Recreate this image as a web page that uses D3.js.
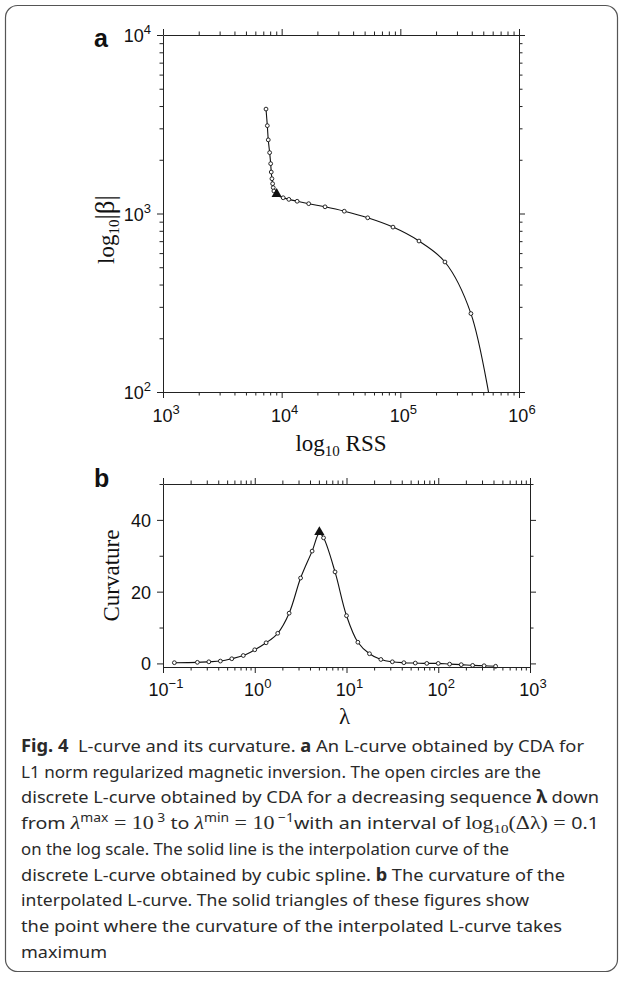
<!DOCTYPE html>
<html>
<head>
<script src="https://d3js.org/d3.v7.min.js"></script>
<style>
    body { margin: 0; background: #fff; }
    .axis path, .axis line { stroke: #222; stroke-width: 1; }
    .tick-label { font-family: "Liberation Sans", Arial, sans-serif; font-size: 18px; fill: #111; }
    .title { font-family: "Liberation Serif", "Times New Roman", serif; font-size: 23px; fill: #111; }
    .panel { font-family: "Liberation Sans", Arial, sans-serif; font-size: 25px; font-weight: bold; fill: #111; }
    .caption { font-family: "Noto Sans", "Open Sans", sans-serif; font-size: 17px; fill: #2a2a2a; }
</style>
</head>
<body>
<script>
// panel a: discrete L-curve (RSS vs |beta|)
var rss  = [7380, 7570, 7710, 7920, 8080, 8170, 8280, 8390, 8490, 8600,
            10300, 11500, 13500, 16900, 23200, 33700, 53100, 86700, 143600, 237700, 393500, 627000];
var beta = [3846, 3105, 2585, 2193, 1902, 1707, 1566, 1469, 1396, 1337,
            1225, 1200, 1171, 1135, 1090, 1030, 946, 839, 701, 535, 275, 61];
var cornerA = {rss: 9080, beta: 1270};

// panel b: curvature vs lambda
var lambda = [0.133, 0.237, 0.316, 0.422, 0.562, 0.75, 1.0, 1.33, 1.78, 2.37, 3.16, 4.22, 5.62, 7.5,
              10, 13.3, 17.8, 23.7, 31.6, 42.2, 56.2, 75, 100, 133, 178, 237, 316, 422];
var curv   = [0.2, 0.3, 0.45, 0.65, 1.3, 2.2, 3.8, 5.75, 8.4, 14, 23.8, 31.3, 35, 25.5,
              13.3, 5.9, 2.7, 1.1, 0.45, 0.2, 0.1, 0, 0, -0.2, -0.35, -0.55, -0.65, -0.8];
var peakB = {lambda: 5.06, curv: 36.3};

var expA_x = [3, 4, 5, 6];
var expA_y = [2, 3, 4];
var expB_x = [-1, 0, 1, 2, 3];
var curvLabels = [0, 20, 40];
var curvMinor = [10, 30, 50];

var captionLines = [
    [["Fig. 4", 1], ["  L-curve and its curvature. ", 0], ["a", 1], [" An L-curve obtained by CDA for", 0]],
    [["L1 norm regularized magnetic inversion. The open circles are the", 0]],
    [["discrete L-curve obtained by CDA for a decreasing sequence ", 0], ["\u03bb", 1], [" down", 0]],
    null,
    [["on the log scale. The solid line is the interpolation curve of the", 0]],
    [["discrete L-curve obtained by cubic spline. ", 0], ["b", 1], [" The curvature of the", 0]],
    [["interpolated L-curve. The solid triangles of these figures show", 0]],
    [["the point where the curvature of the interpolated L-curve takes", 0]],
    [["maximum", 0]]
];
var captionWidths = [563, 520, 578, 578, 488, 544, 508, 541, 86];

var W = 624, H = 982;
var svg = d3.select("body").append("svg").attr("width", W).attr("height", H);

// frame
svg.append("rect").attr("x", 5.5).attr("y", 5.5).attr("width", 612).attr("height", 966)
    .attr("rx", 12).attr("fill", "none").attr("stroke", "#555").attr("stroke-width", 1.2);

function logTicks(lo, hi) {
    var out = [];
    for (var e = lo; e < hi; e++)
        for (var k = 1; k < 10; k++) out.push(k * Math.pow(10, e));
    out.push(Math.pow(10, hi));
    return out;
}
function isDecade(v) {
    var l = Math.log10(v);
    return Math.abs(l - Math.round(l)) < 1e-9;
}
function powLabel(sel, e, anchor) {
    var t = sel.append("text").attr("class", "tick-label").attr("text-anchor", anchor);
    t.append("tspan").text("10");
    t.append("tspan").attr("dy", -8).attr("font-size", 13).text(e < 0 ? "\u2212" + (-e) : e);
    return t;
}

// frame axes with major / minor ticks, outward
function frameAxes(g, x, y, xt, yt, w, h, isMajX, isMajY) {
    var majL = 6, minL = 3.5;
    var ax = [
        [d3.axisBottom(x).tickValues(xt), "translate(0," + h + ")", "x"],
        [d3.axisTop(x).tickValues(xt), "translate(0,0)", "x"],
        [d3.axisLeft(y).tickValues(yt), "translate(0,0)", "y"],
        [d3.axisRight(y).tickValues(yt), "translate(" + w + ",0)", "y"]
    ];
    ax.forEach(function(a) {
        var gg = g.append("g").attr("class", "axis").attr("transform", a[1])
            .call(a[0].tickSizeOuter(0).tickFormat(function() { return ""; }));
        gg.selectAll(".tick line").each(function(d) {
            var maj = a[2] == "x" ? isMajX(d) : isMajY(d);
            var ln = d3.select(this), L = maj ? majL : minL;
            if (ln.attr("y2") != null && +ln.attr("y2") != 0) ln.attr("y2", +ln.attr("y2") > 0 ? L : -L);
            if (ln.attr("x2") != null && +ln.attr("x2") != 0) ln.attr("x2", +ln.attr("x2") > 0 ? L : -L);
        });
    });
}

// ---------- panel a ----------
var A = {l: 163, t: 35, r: 519, b: 392};
var wA = A.r - A.l, hA = A.b - A.t;
var gA = svg.append("g").attr("transform", "translate(" + A.l + "," + A.t + ")");
var xA = d3.scaleLog().domain([1e3, 1e6]).range([0, wA]);
var yA = d3.scaleLog().domain([1e2, 1e4]).range([hA, 0]);

gA.append("clipPath").attr("id", "clipA").append("rect").attr("width", wA).attr("height", hA);

var ptsA = rss.map(function(r, i) { return {rss: r, beta: beta[i]}; });
var lineA = ptsA.concat([cornerA]).sort(function(p, q) { return p.rss - q.rss; });
gA.append("path").attr("clip-path", "url(#clipA)")
    .attr("d", d3.line().x(function(d) { return xA(d.rss); }).y(function(d) { return yA(d.beta); })
        .curve(d3.curveCatmullRom.alpha(0.5))(lineA))
    .attr("fill", "none").attr("stroke", "#111").attr("stroke-width", 1.1);
gA.append("g").attr("clip-path", "url(#clipA)").selectAll("circle").data(ptsA).enter().append("circle")
    .attr("cx", function(d) { return xA(d.rss); }).attr("cy", function(d) { return yA(d.beta); })
    .attr("r", 1.9).attr("fill", "#fff").attr("stroke", "#111").attr("stroke-width", 0.9);
gA.append("path").attr("d", d3.symbol(d3.symbolTriangle, 45)())
    .attr("transform", "translate(" + xA(cornerA.rss) + "," + (yA(cornerA.beta) - 1) + ")").attr("fill", "#111");

frameAxes(gA, xA, yA, logTicks(3, 6), logTicks(2, 4), wA, hA, isDecade, isDecade);

expA_x.forEach(function(e) {
    powLabel(gA, e, "middle").attr("x", xA(Math.pow(10, e)) + 3).attr("y", hA + 30);
});
expA_y.forEach(function(e) {
    powLabel(gA, e, "end").attr("x", -12).attr("y", yA(Math.pow(10, e)) + 7);
});

var tA = svg.append("text").attr("class", "title").attr("text-anchor", "middle")
    .attr("x", (A.l + A.r) / 2).attr("y", 451);
tA.append("tspan").text("log");
tA.append("tspan").attr("font-size", 15).attr("dy", 5).text("10");
tA.append("tspan").attr("dy", -5).text(" RSS");

var yTA = svg.append("text").attr("class", "title").attr("text-anchor", "middle")
    .attr("transform", "translate(114," + ((A.t + A.b) / 2 + 16) + ") rotate(-90)");
yTA.append("tspan").text("log");
yTA.append("tspan").attr("font-size", 15).attr("dy", 5).text("10");
yTA.append("tspan").attr("dy", -5).attr("font-size", 27).text("|\u03b2|");

svg.append("text").attr("class", "panel").attr("x", 94).attr("y", 47).text("a");

// ---------- panel b ----------
var B = {l: 163, t: 484, r: 530, b: 667};
var wB = B.r - B.l, hB = B.b - B.t;
var gB = svg.append("g").attr("transform", "translate(" + B.l + "," + B.t + ")");
var xB = d3.scaleLog().domain([0.1, 1000]).range([0, wB]);
var yB = d3.scaleLinear().domain([-1, 50]).range([hB, 0]);

var ptsB = lambda.map(function(l, i) { return {lambda: l, curv: curv[i]}; });
var lineB = ptsB.concat([peakB]).sort(function(p, q) { return p.lambda - q.lambda; });
gB.append("path")
    .attr("d", d3.line().x(function(d) { return xB(d.lambda); }).y(function(d) { return yB(d.curv); })
        .curve(d3.curveCatmullRom.alpha(0.5))(lineB))
    .attr("fill", "none").attr("stroke", "#111").attr("stroke-width", 1.1);
gB.append("g").selectAll("circle").data(ptsB).enter().append("circle")
    .attr("cx", function(d) { return xB(d.lambda); }).attr("cy", function(d) { return yB(d.curv); })
    .attr("r", 1.9).attr("fill", "#fff").attr("stroke", "#111").attr("stroke-width", 0.9);
gB.append("path").attr("d", d3.symbol(d3.symbolTriangle, 45)())
    .attr("transform", "translate(" + xB(peakB.lambda) + "," + (yB(peakB.curv) - 1) + ")").attr("fill", "#111");

var curvTicks = curvLabels.concat(curvMinor).sort(d3.ascending);
frameAxes(gB, xB, yB, logTicks(-1, 3), curvTicks, wB, hB, isDecade,
    function(v) { return curvLabels.indexOf(v) >= 0; });

expB_x.forEach(function(e) {
    powLabel(gB, e, "middle").attr("x", xB(Math.pow(10, e)) + 3).attr("y", hB + 29);
});
curvLabels.forEach(function(v) {
    gB.append("text").attr("class", "tick-label").attr("text-anchor", "end")
        .attr("x", -12).attr("y", yB(v) + 7).text(v);
});

svg.append("text").attr("class", "title").attr("text-anchor", "middle")
    .attr("transform", "translate(119," + ((B.t + B.b) / 2) + ") rotate(-90)").text("Curvature");
svg.append("text").attr("class", "title").attr("text-anchor", "middle")
    .attr("x", (B.l + B.r) / 2 - 2).attr("y", 724).text("\u03bb");
svg.append("text").attr("class", "panel").attr("x", 94).attr("y", 487).text("b");

// ---------- caption ----------
var cap = svg.append("g");
var capX = 21, capY0 = 752, capDy = 25.7;
captionLines.forEach(function(line, i) {
    var t = cap.append("text").attr("class", "caption").attr("x", capX).attr("y", capY0 + i * capDy)
        .attr("textLength", captionWidths[i]).attr("lengthAdjust", "spacingAndGlyphs")
        .attr("xml:space", "preserve");
    if (line == null) {
        // math line
        var serif = "Liberation Serif, serif";
        t.append("tspan").text("from ");
        t.append("tspan").attr("font-family", serif).attr("font-style", "italic").attr("font-size", 19).text("\u03bb");
        t.append("tspan").attr("dy", -7).attr("font-size", 12).text("max");
        t.append("tspan").attr("dy", 7).attr("font-family", serif).attr("font-size", 19).text(" = 10");
        t.append("tspan").attr("dy", -7).attr("font-size", 12).text(" 3");
        t.append("tspan").attr("dy", 7).text(" to ");
        t.append("tspan").attr("font-family", serif).attr("font-style", "italic").attr("font-size", 19).text("\u03bb");
        t.append("tspan").attr("dy", -7).attr("font-size", 12).text("min");
        t.append("tspan").attr("dy", 7).attr("font-family", serif).attr("font-size", 19).text(" = 10");
        t.append("tspan").attr("dy", -7).attr("font-size", 12).text(" \u22121");
        t.append("tspan").attr("dy", 7).text("with an interval of ");
        t.append("tspan").attr("font-family", serif).attr("font-size", 19).text("log");
        t.append("tspan").attr("dy", 4).attr("font-family", serif).attr("font-size", 13).text("10");
        t.append("tspan").attr("dy", -4).attr("font-family", serif).attr("font-size", 19).text("(\u0394\u03bb) = ");
        t.append("tspan").text("0.1");
    } else {
        line.forEach(function(s) {
            t.append("tspan").attr("font-weight", s[1] ? "bold" : null).text(s[0]);
        });
    }
});
</script>
</body>
</html>
